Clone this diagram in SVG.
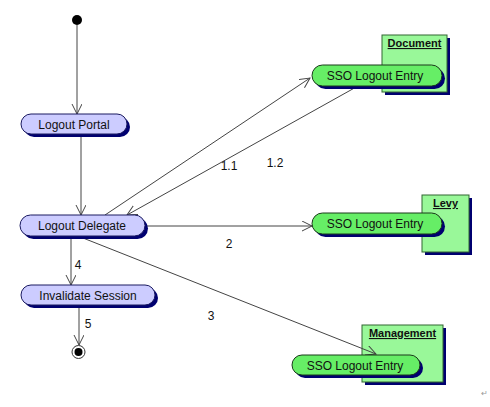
<svg xmlns="http://www.w3.org/2000/svg" width="490" height="407" viewBox="0 0 490 407">
<style>
text{font-family:"Liberation Sans",Arial,sans-serif;font-size:12px;fill:#111}
.act{fill:#ccccff;stroke:#1a1a60;stroke-width:1}
.sso{fill:#66ee66;stroke:#1a3a1a;stroke-width:1}
.part{fill:#99f899;stroke:#336633;stroke-width:1}
.sh{fill:#000070}
.ln{stroke:#444;stroke-width:1;fill:none}
.ttl{font-size:11px;font-weight:bold;text-decoration:underline}
</style>
<defs>
<marker id="arr" markerWidth="12" markerHeight="12" refX="10" refY="5" orient="auto" markerUnits="userSpaceOnUse">
<path d="M0,0 L10,5 L0,10" fill="none" stroke="#444" stroke-width="1"/>
</marker>
</defs>
<rect width="490" height="407" fill="#fff"/>

<g id="partitions">
<g id="document">
<rect x="385" y="38" width="65" height="57" class="sh"/>
<rect x="382" y="35" width="65" height="57" class="part"/>
<text x="414.5" y="47" text-anchor="middle" class="ttl">Document</text>
</g>
<g id="levy">
<rect x="425" y="198" width="47" height="57" class="sh"/>
<rect x="422" y="195" width="47" height="57" class="part"/>
<text x="445.5" y="207" text-anchor="middle" class="ttl">Levy</text>
</g>
<g id="management">
<rect x="365" y="328" width="81" height="57" class="sh"/>
<rect x="362" y="325" width="81" height="57" class="part"/>
<text x="402.5" y="337" text-anchor="middle" class="ttl">Management</text>
</g>
</g>

<g id="connectors">
<line x1="77" y1="25" x2="77" y2="114" class="ln" marker-end="url(#arr)"/>
<line x1="81" y1="134" x2="81" y2="215" class="ln" marker-end="url(#arr)"/>
<line x1="105" y1="215" x2="310" y2="78" class="ln" marker-end="url(#arr)"/>
<line x1="358" y1="86" x2="127" y2="215" class="ln" marker-end="url(#arr)"/>
<line x1="145" y1="226" x2="312" y2="226" class="ln" marker-end="url(#arr)"/>
<line x1="83" y1="238" x2="376" y2="354" class="ln" marker-end="url(#arr)"/>
<line x1="71" y1="237" x2="71" y2="285" class="ln" marker-end="url(#arr)"/>
<line x1="79" y1="305" x2="79" y2="345" class="ln" marker-end="url(#arr)"/>
<text x="229" y="170" text-anchor="middle">1.1</text>
<text x="275" y="167" text-anchor="middle">1.2</text>
<text x="229" y="248" text-anchor="middle">2</text>
<text x="211" y="320" text-anchor="middle">3</text>
<text x="78" y="269" text-anchor="middle">4</text>
<text x="88" y="328" text-anchor="middle">5</text>
</g>

<g id="start">
<circle cx="77" cy="20" r="5" fill="#000"/>
</g>

<g id="logout-portal">
<rect x="24" y="117" width="106" height="20" rx="10" class="sh"/>
<rect x="21" y="114" width="106" height="20" rx="10" class="act"/>
<text x="74" y="128.5" text-anchor="middle">Logout Portal</text>
</g>

<g id="logout-delegate">
<rect x="23" y="218" width="125" height="21" rx="10.5" class="sh"/>
<rect x="20" y="215" width="125" height="21" rx="10.5" class="act"/>
<text x="82" y="230" text-anchor="middle">Logout Delegate</text>
</g>

<g id="invalidate-session">
<rect x="24" y="288" width="134" height="20" rx="10" class="sh"/>
<rect x="21" y="285" width="134" height="20" rx="10" class="act"/>
<text x="88" y="299.5" text-anchor="middle">Invalidate Session</text>
</g>

<g id="end">
<circle cx="78.5" cy="352" r="6.5" fill="#fff" stroke="#333" stroke-width="1"/>
<circle cx="78.5" cy="352" r="4" fill="#000"/>
</g>

<g id="sso-document">
<rect x="315" y="68" width="130" height="21" rx="10.5" class="sh"/>
<rect x="312" y="65" width="130" height="21" rx="10.5" class="sso"/>
<text x="375" y="80" text-anchor="middle">SSO Logout Entry</text>
</g>

<g id="sso-levy">
<rect x="315" y="216" width="130" height="21" rx="10.5" class="sh"/>
<rect x="312" y="213" width="130" height="21" rx="10.5" class="sso"/>
<text x="375" y="228" text-anchor="middle">SSO Logout Entry</text>
</g>

<g id="sso-management">
<rect x="295" y="358" width="128" height="20" rx="10" class="sh"/>
<rect x="292" y="355" width="128" height="20" rx="10" class="sso"/>
<text x="355" y="369.5" text-anchor="middle">SSO Logout Entry</text>
</g>

<text x="481" y="396" style="font-size:8px;fill:#999">↵</text>
</svg>
